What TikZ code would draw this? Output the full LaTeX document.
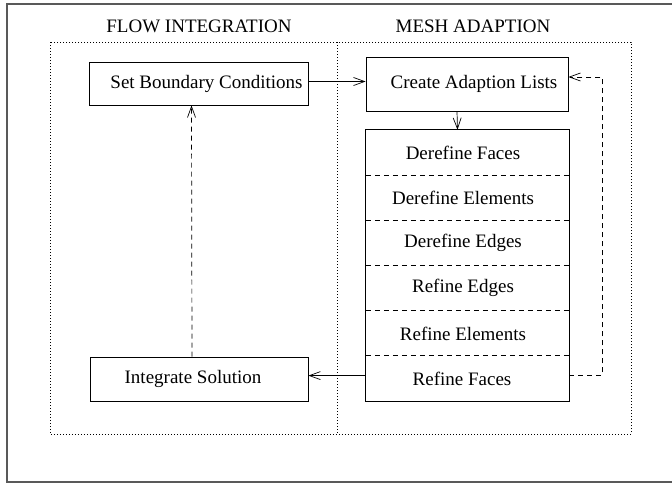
\documentclass[tikz,border=0pt]{standalone}
\usepackage{fontspec}
\setmainfont{Liberation Serif}
\usetikzlibrary{arrows.meta,calc}
\begin{document}
\begin{tikzpicture}[x=1pt,y=-1pt,
  box/.style={draw,line width=0.8pt,rectangle,inner sep=0pt,font=\fontsize{19}{22}\selectfont},
  row/.style={rectangle,inner sep=0pt,minimum width=203,minimum height=45.2,font=\fontsize{19}{22}\selectfont},
  title/.style={font=\fontsize{19}{22}\selectfont},
  arr/.style={line width=0.7pt,-{Straight Barb[length=11pt,width=8pt]}},
  dotline/.style={line width=0.8pt,dash pattern=on 0.8pt off 2.2pt},
  sep/.style={dash pattern=on 5pt off 4pt,line width=0.7pt}]
\useasboundingbox (0,0) rectangle (672,485);
\coordinate (ftr) at (672,4);
\coordinate (ftl) at (7,4);
\coordinate (fbl) at (7,482);
\coordinate (fbr) at (672,482);
\draw[black!65,line width=1.5pt] (ftr) -- (ftl) -- (fbl) -- (fbr);
\node[title] (t1) at (199,26.5) {FLOW INTEGRATION};
\node[title] (t2) at (473,26.5) {MESH ADAPTION};
\coordinate (dtl) at (50,42);
\coordinate (dbr) at (631,434);
\coordinate (dmt) at (337,42);
\coordinate (dmb) at (337,434);
\draw[dotline] (dtl) rectangle (dbr);
\draw[dotline] (dmt) -- (dmb);
\node[box,minimum width=219,minimum height=43] (sbc) at (198.5,83.5) {\hspace*{16pt}Set Boundary Conditions};
\node[box,minimum width=202,minimum height=54] (cal) at (467,84) {\hspace*{14pt}Create Adaption Lists};
\node[row] (r1) at (467.5,152.6) {Derefine Faces\hspace*{9pt}};
\node[row] (r2) at (467.5,197.8) {Derefine Elements\hspace*{9pt}};
\node[row] (r3) at (467.5,243) {Derefine Edges\hspace*{9pt}};
\node[row] (r4) at (467.5,288.2) {Refine Edges\hspace*{9pt}};
\node[row] (r5) at (467.5,333.4) {Refine Elements\hspace*{9pt}};
\node[row] (r6) at (467.5,378.6) {Refine Faces\hspace*{11pt}};
\draw[line width=0.8pt] (r1.north west) rectangle (r6.south east);
\foreach \i in {2,...,6} \draw[sep] (r\i.north west) -- (r\i.north east);
\node[box,minimum width=218,minimum height=44] (is) at (199,379) {Integrate Solution\hspace*{12pt}};
\draw[arr] ([yshift=2]sbc.east) -- ([yshift=2]sbc.east -| cal.west);
\draw[arr] ([xshift=-10]cal.south) -- ([xshift=-10]r1.north);
\draw[arr] ([yshift=3]r6.west) -- ([yshift=3]r6.west -| is.east);
\draw[arr,sep] ([xshift=-7]is.north) -- ([xshift=-7]sbc.south);
\coordinate (rr) at (602,0);
\draw[arr,sep] ([yshift=3]r6.east) -- ([yshift=3]r6.east -| rr) |- ([yshift=7]cal.east);
\end{tikzpicture}
\end{document}
